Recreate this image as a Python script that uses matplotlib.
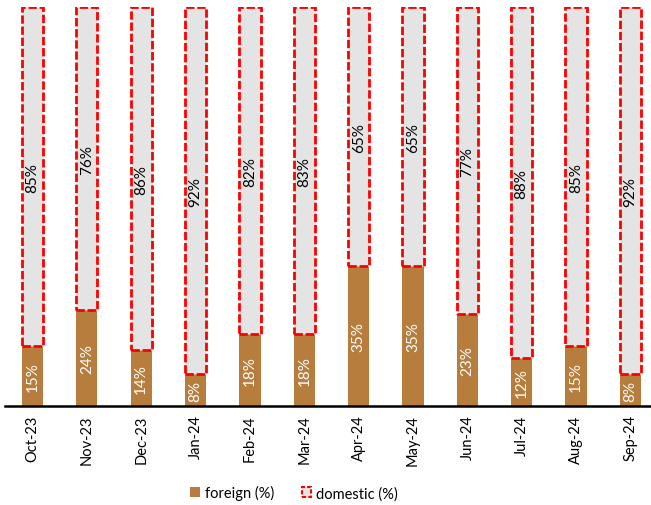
import numpy as np
import matplotlib.pyplot as plt
from matplotlib.patches import Patch

plt.rcParams['font.family'] = ['Lato', 'DejaVu Sans']

months = ["Oct-23", "Nov-23", "Dec-23", "Jan-24", "Feb-24", "Mar-24",
          "Apr-24", "May-24", "Jun-24", "Jul-24", "Aug-24", "Sep-24"]
foreign = [15, 24, 14, 8, 18, 18, 35, 35, 23, 12, 15, 8]
domestic = [85, 76, 86, 92, 82, 83, 65, 65, 77, 88, 85, 92]

brown = "#B67D3C"
grey = "#E4E4E4"
red = "#FF0000"

fig = plt.figure(figsize=(6.51, 5.06), dpi=100)
ax = fig.add_axes([0, 0.1957, 1, 0.7883])

x = np.arange(len(months))
# domestic block sits on top of foreign and fills the column up to 100
dom_h = 100 - np.array(foreign)

ax.bar(x, foreign, width=0.39, color=brown, edgecolor="none", zorder=2)
ax.bar(x, dom_h, width=0.39, bottom=foreign, color=grey, edgecolor=red,
       linewidth=2.0, linestyle=(0, (3, 1)), zorder=2)

for i in range(len(months)):
    ax.text(x[i], foreign[i] / 2, f"{foreign[i]}%", rotation=90, ha="center",
            va="center", color="white", fontsize=11)
    ax.text(x[i], foreign[i] + dom_h[i] / 2, f"{domestic[i]}%", rotation=90,
            ha="center", va="center", color="black", fontsize=11)

ax.set_xlim(-0.598, 11.378)
ax.set_ylim(0, 100)
ax.set_xticks(x)
ax.set_xticklabels(months, rotation=90, fontsize=10.5)
ax.tick_params(axis="x", length=0, pad=6)
ax.set_yticks([])
for s in ["top", "right", "left"]:
    ax.spines[s].set_visible(False)
ax.spines["bottom"].set_linewidth(1.8)
ax.spines["bottom"].set_bounds(-0.5, 11.5)

handles = [Patch(facecolor=brown, edgecolor="none", label="foreign (%)"),
           Patch(facecolor=grey, edgecolor=red, linestyle=(0, (2, 1)),
                 linewidth=1.5, label="domestic (%)")]
fig.legend(handles=handles, loc="center", bbox_to_anchor=(0.452, 0.024),
           ncol=2, frameon=False, fontsize=10.5, handlelength=0.65,
           handleheight=0.65, handletextpad=0.35, columnspacing=1.9)

fig.savefig("out.png", dpi=100)
